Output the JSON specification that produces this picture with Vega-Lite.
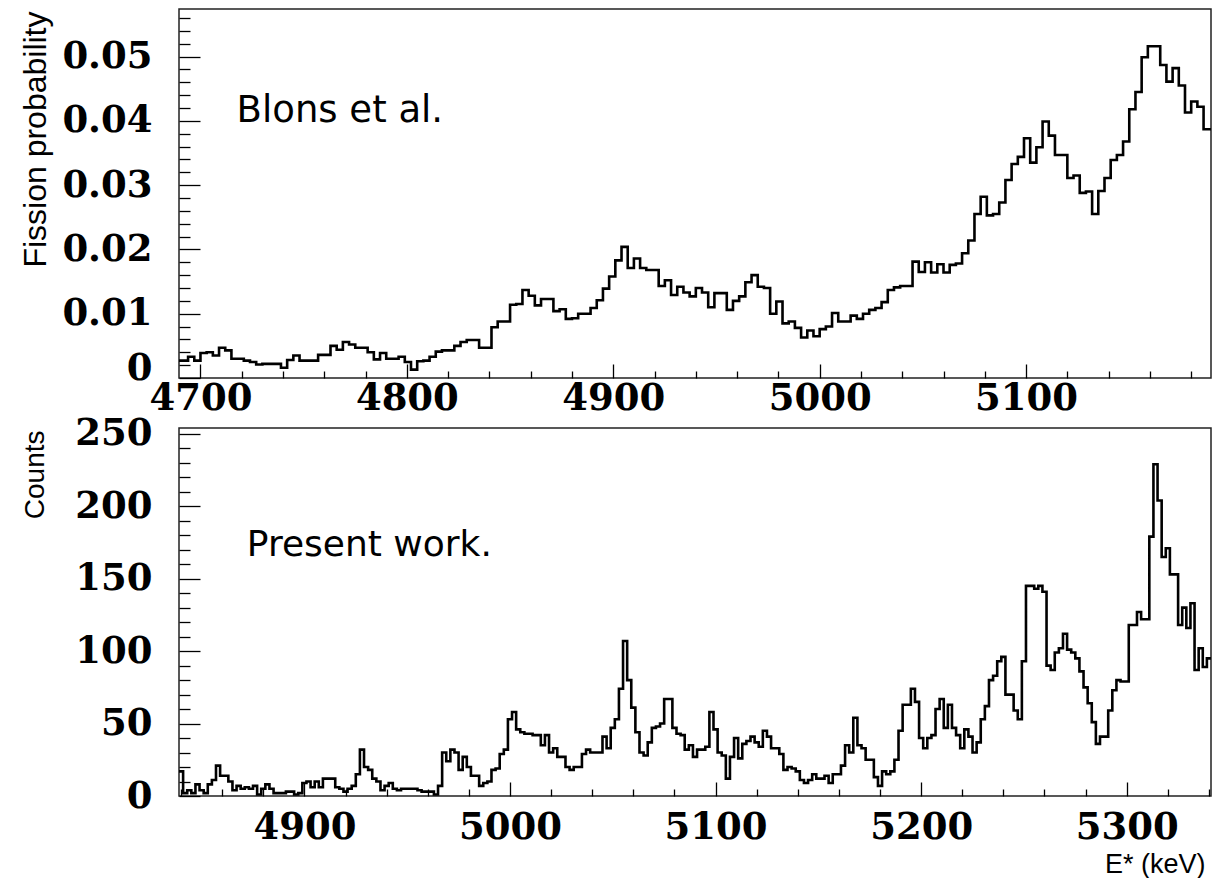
{
  "$schema": "https://vega.github.io/schema/vega-lite/v6.json",
  "background": "white",
  "padding": {"left": 18, "top": 8, "right": 0, "bottom": 0},
  "spacing": 50,
  "bounds": "flush",
  "config": {
    "view": {"stroke": "#222", "strokeWidth": 1.5},
    "axis": {"grid": false, "domain": false, "tickCount": 1000, "labelOverlap": false, "labelFlush": true, "labelFont": "DejaVu Serif", "labelFontWeight": "bold", "labelFontSize": 37, "labelColor": "black", "tickColor": "black", "tickWidth": 1.3, "titleFont": "Liberation Sans", "titleFontWeight": "normal", "titleColor": "black"}
  },
  "vconcat": [
    {
      "width": 1032,
      "height": 369,
      "layer": [
        {
          "data": {"values": [
            {"e":4688,"p":0.0027},{"e":4691,"p":0.0027},{"e":4694,"p":0.0033},{"e":4697,"p":0.0027},{"e":4700,"p":0.0039},{"e":4703,"p":0.0040},{"e":4706,"p":0.0035},{"e":4709,"p":0.0047},{"e":4712,"p":0.0043},{"e":4715,"p":0.0030},
            {"e":4718,"p":0.0030},{"e":4721,"p":0.0027},{"e":4724,"p":0.0025},{"e":4727,"p":0.0021},{"e":4730,"p":0.0022},{"e":4733,"p":0.0022},{"e":4736,"p":0.0022},{"e":4739,"p":0.0016},{"e":4742,"p":0.0028},{"e":4745,"p":0.0035},
            {"e":4748,"p":0.0027},{"e":4751,"p":0.0027},{"e":4754,"p":0.0027},{"e":4757,"p":0.0036},{"e":4760,"p":0.0036},{"e":4763,"p":0.0050},{"e":4766,"p":0.0044},{"e":4769,"p":0.0056},{"e":4772,"p":0.0052},{"e":4775,"p":0.0047},
            {"e":4778,"p":0.0047},{"e":4781,"p":0.0040},{"e":4784,"p":0.0029},{"e":4787,"p":0.0039},{"e":4790,"p":0.0030},{"e":4793,"p":0.0030},{"e":4796,"p":0.0033},{"e":4799,"p":0.0025},{"e":4802,"p":0.0013},{"e":4805,"p":0.0026},
            {"e":4808,"p":0.0027},{"e":4811,"p":0.0033},{"e":4814,"p":0.0041},{"e":4817,"p":0.0043},{"e":4820,"p":0.0043},{"e":4823,"p":0.0050},{"e":4826,"p":0.0056},{"e":4829,"p":0.0059},{"e":4832,"p":0.0059},{"e":4835,"p":0.0047},
            {"e":4838,"p":0.0047},{"e":4841,"p":0.0079},{"e":4844,"p":0.0088},{"e":4847,"p":0.0088},{"e":4850,"p":0.0114},{"e":4853,"p":0.0115},{"e":4856,"p":0.0137},{"e":4859,"p":0.0128},{"e":4862,"p":0.0113},{"e":4865,"p":0.0123},
            {"e":4868,"p":0.0123},{"e":4871,"p":0.0104},{"e":4874,"p":0.0107},{"e":4877,"p":0.0092},{"e":4880,"p":0.0093},{"e":4883,"p":0.0100},{"e":4886,"p":0.0100},{"e":4889,"p":0.0109},{"e":4892,"p":0.0121},{"e":4895,"p":0.0139},
            {"e":4898,"p":0.0158},{"e":4901,"p":0.0183},{"e":4904,"p":0.0204},{"e":4907,"p":0.0171},{"e":4910,"p":0.0186},{"e":4913,"p":0.0171},{"e":4916,"p":0.0168},{"e":4919,"p":0.0168},{"e":4922,"p":0.0143},{"e":4925,"p":0.0152},
            {"e":4928,"p":0.0129},{"e":4931,"p":0.0142},{"e":4934,"p":0.0133},{"e":4937,"p":0.0127},{"e":4940,"p":0.0140},{"e":4943,"p":0.0133},{"e":4946,"p":0.0110},{"e":4949,"p":0.0132},{"e":4952,"p":0.0132},{"e":4955,"p":0.0106},
            {"e":4958,"p":0.0120},{"e":4961,"p":0.0127},{"e":4964,"p":0.0149},{"e":4967,"p":0.0160},{"e":4970,"p":0.0142},{"e":4973,"p":0.0140},{"e":4976,"p":0.0100},{"e":4979,"p":0.0119},{"e":4982,"p":0.0085},{"e":4985,"p":0.0088},
            {"e":4988,"p":0.0078},{"e":4991,"p":0.0063},{"e":4994,"p":0.0074},{"e":4997,"p":0.0065},{"e":5000,"p":0.0076},{"e":5003,"p":0.0080},{"e":5006,"p":0.0101},{"e":5009,"p":0.0088},{"e":5012,"p":0.0088},{"e":5015,"p":0.0097},
            {"e":5018,"p":0.0092},{"e":5021,"p":0.0100},{"e":5024,"p":0.0106},{"e":5027,"p":0.0109},{"e":5030,"p":0.0118},{"e":5033,"p":0.0137},{"e":5036,"p":0.0141},{"e":5039,"p":0.0143},{"e":5042,"p":0.0143},{"e":5045,"p":0.0181},
            {"e":5048,"p":0.0165},{"e":5051,"p":0.0180},{"e":5054,"p":0.0164},{"e":5057,"p":0.0177},{"e":5060,"p":0.0164},{"e":5063,"p":0.0176},{"e":5066,"p":0.0178},{"e":5069,"p":0.0194},{"e":5072,"p":0.0214},{"e":5075,"p":0.0255},
            {"e":5078,"p":0.0282},{"e":5081,"p":0.0253},{"e":5084,"p":0.0255},{"e":5087,"p":0.0273},{"e":5090,"p":0.0308},{"e":5093,"p":0.0333},{"e":5096,"p":0.0344},{"e":5099,"p":0.0373},{"e":5102,"p":0.0335},{"e":5105,"p":0.0359},
            {"e":5108,"p":0.0399},{"e":5111,"p":0.0377},{"e":5114,"p":0.0347},{"e":5117,"p":0.0347},{"e":5120,"p":0.0311},{"e":5123,"p":0.0315},{"e":5126,"p":0.0288},{"e":5129,"p":0.0290},{"e":5132,"p":0.0255},{"e":5135,"p":0.0291},
            {"e":5138,"p":0.0311},{"e":5141,"p":0.0339},{"e":5144,"p":0.0347},{"e":5147,"p":0.0368},{"e":5150,"p":0.0418},{"e":5153,"p":0.0445},{"e":5156,"p":0.0499},{"e":5159,"p":0.0516},{"e":5162,"p":0.0516},{"e":5165,"p":0.0487},
            {"e":5168,"p":0.0461},{"e":5171,"p":0.0482},{"e":5174,"p":0.0455},{"e":5177,"p":0.0413},{"e":5180,"p":0.0430},{"e":5183,"p":0.0422},{"e":5186,"p":0.0387},{"e":5190,"p":0.0387}
          ]},
          "mark": {"type": "line", "interpolate": "step-after", "color": "black", "strokeWidth": 2.6, "clip": true},
          "encoding": {
            "x": {"field": "e", "type": "quantitative", "scale": {"domain": [4689.6, 5189.6], "nice": false, "zero": false},
              "axis": {"title": null, "format": "d", "values": [4700,4720,4740,4760,4780,4800,4820,4840,4860,4880,4900,4920,4940,4960,4980,5000,5020,5040,5060,5080,5100,5120,5140,5160,5180],
                "labelExpr": "datum.value % 100 === 0 ? datum.label : ''",
                "labelFontSize": {"condition": {"test": "datum.value % 100 === 0", "value": 37}, "value": 1},
                "tickSize": {"condition": {"test": "datum.value % 100 === 0", "value": -14}, "value": -7},
                "labelPadding": 16}},
            "y": {"field": "p", "type": "quantitative", "scale": {"domain": [0, 0.0574], "nice": false},
              "axis": {"title": "Fission probability", "titleFontSize": 32, "titleAnchor": "end", "titleAlign": "right", "titleBaseline": "alphabetic", "titleX": -134, "titleY": 2,
                "values": [0,0.002,0.004,0.006,0.008,0.01,0.012,0.014,0.016,0.018,0.02,0.022,0.024,0.026,0.028,0.03,0.032,0.034,0.036,0.038,0.04,0.042,0.044,0.046,0.048,0.05,0.052,0.054,0.056],
                "labelExpr": "abs(datum.value*100 - round(datum.value*100)) < 1e-6 ? (datum.value < 1e-9 ? '0' : format(datum.value, '.2f')) : ''",
                "labelFontSize": {"condition": {"test": "abs(datum.value*100 - round(datum.value*100)) < 1e-6", "value": 37}, "value": 1},
                "tickSize": {"condition": {"test": "abs(datum.value*100 - round(datum.value*100)) < 1e-6", "value": -21}, "value": -11},
                "labelOffset": {"condition": {"test": "datum.value < 1e-9", "value": 9}, "value": 0},
                "labelPadding": 48}}
          }
        },
        {
          "data": {"values": [{"e": 4717.5, "p": 0.0415, "t": "Blons et al."}]},
          "mark": {"type": "text", "align": "left", "baseline": "middle", "font": "DejaVu Sans", "fontSize": 37, "color": "black"},
          "encoding": {
            "x": {"field": "e", "type": "quantitative"},
            "y": {"field": "p", "type": "quantitative"},
            "text": {"field": "t"}
          }
        }
      ]
    },
    {
      "width": 1032,
      "height": 368,
      "layer": [
        {
          "data": {"values": [
            {"e":4839,"c":17},{"e":4841,"c":2},{"e":4843,"c":4},{"e":4845,"c":2},{"e":4847,"c":8},{"e":4849,"c":4},{"e":4851,"c":2},{"e":4853,"c":8},{"e":4855,"c":11},{"e":4857,"c":21},
            {"e":4859,"c":14},{"e":4861,"c":14},{"e":4863,"c":10},{"e":4865,"c":4},{"e":4867,"c":7},{"e":4869,"c":5},{"e":4871,"c":6},{"e":4873,"c":5},{"e":4875,"c":7},{"e":4877,"c":1},
            {"e":4879,"c":5},{"e":4881,"c":8},{"e":4883,"c":5},{"e":4885,"c":2},{"e":4887,"c":2},{"e":4889,"c":2},{"e":4891,"c":3},{"e":4893,"c":3},{"e":4895,"c":1},{"e":4897,"c":2},
            {"e":4899,"c":9},{"e":4901,"c":10},{"e":4903,"c":6},{"e":4905,"c":10},{"e":4907,"c":6},{"e":4909,"c":12},{"e":4911,"c":12},{"e":4913,"c":12},{"e":4915,"c":6},{"e":4917,"c":5},
            {"e":4919,"c":3},{"e":4921,"c":5},{"e":4923,"c":7},{"e":4925,"c":15},{"e":4927,"c":32},{"e":4929,"c":20},{"e":4931,"c":18},{"e":4933,"c":12},{"e":4935,"c":10},{"e":4937,"c":4},
            {"e":4939,"c":7},{"e":4941,"c":9},{"e":4943,"c":5},{"e":4945,"c":4},{"e":4947,"c":5},{"e":4949,"c":5},{"e":4951,"c":5},{"e":4953,"c":5},{"e":4955,"c":4},{"e":4957,"c":3},
            {"e":4959,"c":3},{"e":4961,"c":3},{"e":4963,"c":1},{"e":4965,"c":7},{"e":4967,"c":30},{"e":4969,"c":24},{"e":4971,"c":32},{"e":4973,"c":30},{"e":4975,"c":18},{"e":4977,"c":27},
            {"e":4979,"c":20},{"e":4981,"c":14},{"e":4983,"c":14},{"e":4985,"c":7},{"e":4987,"c":9},{"e":4989,"c":10},{"e":4991,"c":18},{"e":4993,"c":19},{"e":4995,"c":29},{"e":4997,"c":32},
            {"e":4999,"c":53},{"e":5001,"c":58},{"e":5003,"c":46},{"e":5005,"c":44},{"e":5007,"c":43},{"e":5009,"c":43},{"e":5011,"c":42},{"e":5013,"c":42},{"e":5015,"c":35},{"e":5017,"c":42},
            {"e":5019,"c":30},{"e":5021,"c":33},{"e":5023,"c":27},{"e":5025,"c":27},{"e":5027,"c":20},{"e":5029,"c":18},{"e":5031,"c":20},{"e":5033,"c":20},{"e":5035,"c":29},{"e":5037,"c":32},
            {"e":5039,"c":30},{"e":5041,"c":30},{"e":5043,"c":30},{"e":5045,"c":41},{"e":5047,"c":33},{"e":5049,"c":47},{"e":5051,"c":53},{"e":5053,"c":74},{"e":5055,"c":107},{"e":5057,"c":80},
            {"e":5059,"c":61},{"e":5061,"c":44},{"e":5063,"c":30},{"e":5065,"c":28},{"e":5067,"c":37},{"e":5069,"c":47},{"e":5071,"c":48},{"e":5073,"c":50},{"e":5075,"c":67},{"e":5077,"c":67},
            {"e":5079,"c":47},{"e":5081,"c":43},{"e":5083,"c":42},{"e":5085,"c":32},{"e":5087,"c":35},{"e":5089,"c":27},{"e":5091,"c":32},{"e":5093,"c":32},{"e":5095,"c":34},{"e":5097,"c":58},
            {"e":5099,"c":46},{"e":5101,"c":30},{"e":5103,"c":28},{"e":5105,"c":12},{"e":5107,"c":27},{"e":5109,"c":40},{"e":5111,"c":26},{"e":5113,"c":36},{"e":5115,"c":38},{"e":5117,"c":41},
            {"e":5119,"c":37},{"e":5121,"c":34},{"e":5123,"c":45},{"e":5125,"c":41},{"e":5127,"c":33},{"e":5129,"c":33},{"e":5131,"c":29},{"e":5133,"c":18},{"e":5135,"c":20},{"e":5137,"c":19},
            {"e":5139,"c":17},{"e":5141,"c":11},{"e":5143,"c":9},{"e":5145,"c":11},{"e":5147,"c":15},{"e":5149,"c":12},{"e":5151,"c":12},{"e":5153,"c":14},{"e":5155,"c":9},{"e":5157,"c":15},
            {"e":5159,"c":15},{"e":5161,"c":21},{"e":5163,"c":35},{"e":5165,"c":30},{"e":5167,"c":54},{"e":5169,"c":35},{"e":5171,"c":33},{"e":5173,"c":25},{"e":5175,"c":25},{"e":5177,"c":13},
            {"e":5179,"c":7},{"e":5181,"c":17},{"e":5183,"c":15},{"e":5185,"c":17},{"e":5187,"c":25},{"e":5189,"c":45},{"e":5191,"c":63},{"e":5193,"c":63},{"e":5195,"c":74},{"e":5197,"c":65},
            {"e":5199,"c":40},{"e":5201,"c":33},{"e":5203,"c":40},{"e":5205,"c":42},{"e":5207,"c":60},{"e":5209,"c":67},{"e":5211,"c":47},{"e":5213,"c":63},{"e":5215,"c":47},{"e":5217,"c":42},
            {"e":5219,"c":33},{"e":5221,"c":46},{"e":5223,"c":41},{"e":5225,"c":30},{"e":5227,"c":37},{"e":5229,"c":53},{"e":5231,"c":62},{"e":5233,"c":80},{"e":5235,"c":83},{"e":5237,"c":93},
            {"e":5239,"c":96},{"e":5241,"c":70},{"e":5243,"c":70},{"e":5245,"c":59},{"e":5247,"c":53},{"e":5249,"c":93},{"e":5251,"c":145},{"e":5253,"c":145},{"e":5255,"c":143},{"e":5257,"c":145},
            {"e":5259,"c":141},{"e":5261,"c":90},{"e":5263,"c":87},{"e":5265,"c":99},{"e":5267,"c":102},{"e":5269,"c":112},{"e":5271,"c":101},{"e":5273,"c":99},{"e":5275,"c":95},{"e":5277,"c":86},
            {"e":5279,"c":75},{"e":5281,"c":64},{"e":5283,"c":51},{"e":5285,"c":36},{"e":5287,"c":41},{"e":5289,"c":41},{"e":5291,"c":59},{"e":5293,"c":73},{"e":5295,"c":80},{"e":5297,"c":79},
            {"e":5299,"c":79},{"e":5301,"c":118},{"e":5303,"c":118},{"e":5305,"c":127},{"e":5307,"c":122},{"e":5309,"c":122},{"e":5311,"c":179},{"e":5313,"c":229},{"e":5315,"c":204},{"e":5317,"c":165},
            {"e":5319,"c":171},{"e":5321,"c":153},{"e":5323,"c":153},{"e":5325,"c":118},{"e":5327,"c":130},{"e":5329,"c":116},{"e":5331,"c":133},{"e":5333,"c":87},{"e":5335,"c":102},{"e":5337,"c":89},
            {"e":5339,"c":95},{"e":5341,"c":95}
          ]},
          "mark": {"type": "line", "interpolate": "step-after", "color": "black", "strokeWidth": 2.6, "clip": true},
          "encoding": {
            "x": {"field": "e", "type": "quantitative", "scale": {"domain": [4839, 5341], "nice": false, "zero": false},
              "axis": {"title": "E* (keV)", "titleFontSize": 27, "titleAnchor": "end", "titleAlign": "right", "titleBaseline": "alphabetic", "titleX": 1026, "titleY": 76,
                "format": "d", "values": [4840,4860,4880,4900,4920,4940,4960,4980,5000,5020,5040,5060,5080,5100,5120,5140,5160,5180,5200,5220,5240,5260,5280,5300,5320,5340],
                "labelExpr": "datum.value % 100 === 0 ? datum.label : ''",
                "labelFontSize": {"condition": {"test": "datum.value % 100 === 0", "value": 37}, "value": 1},
                "tickSize": {"condition": {"test": "datum.value % 100 === 0", "value": -14}, "value": -7},
                "labelPadding": 27}},
            "y": {"field": "c", "type": "quantitative", "scale": {"domain": [0, 254], "nice": false},
              "axis": {"title": "Counts", "titleFontSize": 28, "titleAnchor": "end", "titleAlign": "right", "titleBaseline": "alphabetic", "titleX": -136, "titleY": 2,
                "format": "d", "labelFlush": false,
                "values": [0,10,20,30,40,50,60,70,80,90,100,110,120,130,140,150,160,170,180,190,200,210,220,230,240,250],
                "labelExpr": "datum.value % 50 === 0 ? datum.label : ''",
                "labelFontSize": {"condition": {"test": "datum.value % 50 === 0", "value": 37}, "value": 1},
                "tickSize": {"condition": {"test": "datum.value % 50 === 0", "value": -21}, "value": -11},
                "labelPadding": 48}}
          }
        },
        {
          "data": {"values": [{"e": 4872, "c": 173, "t": "Present work."}]},
          "mark": {"type": "text", "align": "left", "baseline": "middle", "font": "DejaVu Sans", "fontSize": 36, "color": "black"},
          "encoding": {
            "x": {"field": "e", "type": "quantitative"},
            "y": {"field": "c", "type": "quantitative"},
            "text": {"field": "t"}
          }
        }
      ]
    }
  ]
}
